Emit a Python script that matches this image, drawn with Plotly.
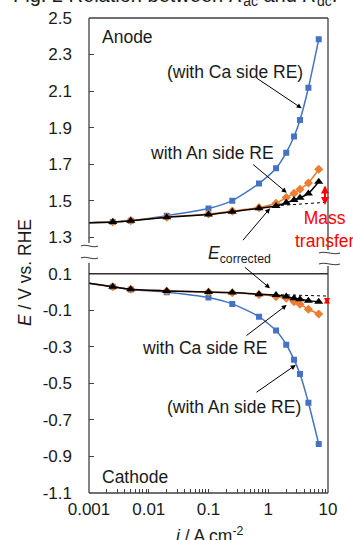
import plotly.graph_objects as go

# ---------------- data ----------------
i_vals = [0.0008, 0.0025, 0.005, 0.02, 0.1, 0.25, 0.7, 1.35, 2.0, 2.7, 3.4, 4.7, 7.0]

# Anode (E / V vs. RHE)
anode_ca_side = [1.378, 1.383, 1.390, 1.418, 1.457, 1.500, 1.594, 1.677, 1.763, 1.851, 1.942, 2.118, 2.383]
anode_an_side = [1.378, 1.383, 1.391, 1.410, 1.427, 1.443, 1.462, 1.486, 1.517, 1.540, 1.563, 1.597, 1.672]
anode_corrected = [1.378, 1.383, 1.390, 1.409, 1.424, 1.440, 1.458, 1.471, 1.489, 1.504, 1.516, 1.540, 1.604]

# Cathode (E / V vs. RHE)
cath_an_side = [0.052, 0.029, 0.014, -0.001, -0.030, -0.065, -0.135, -0.211, -0.288, -0.370, -0.449, -0.606, -0.832]
cath_ca_side = [0.052, 0.029, 0.015, 0.006, 0.000, -0.004, -0.014, -0.025, -0.034, -0.053, -0.067, -0.094, -0.120]
cath_corrected = [0.052, 0.029, 0.015, 0.006, 0.000, -0.003, -0.012, -0.016, -0.025, -0.034, -0.040, -0.047, -0.053]

# Tafel extrapolation (dotted)
tafel_i_anode = [1.3, 10]
tafel_anode = [1.472, 1.492]
tafel_i_cath = [1.3, 10]
tafel_cath = [-0.014, -0.022]

x_tickvals = [0.001, 0.01, 0.1, 1, 10]
x_ticktext = ["0.001", "0.01", "0.1", "1", "10"]
y_top_ticks = [1.3, 1.5, 1.7, 1.9, 2.1, 2.3, 2.5]
y_bot_ticks = [-1.1, -0.9, -0.7, -0.5, -0.3, -0.1, 0.1]

BLUE = "#4472C4"
ORANGE = "#ED7D31"
BLACK = "#000000"
FRAME = "#404040"
TXT = "#1a1a1a"
FONT = "Liberation Sans, Arial, sans-serif"

# plot area in pixels
L, R, T, B = 89, 328, 18, 493
W, H = 353, 540


def px(x):
    return (x - L) / (R - L)


def py(y):
    return (B - y) / (B - T)


fig = go.Figure()


def add(x, y, color, symbol, size, yaxis, dash=None, markers=True, width=1.5):
    fig.add_trace(go.Scatter(
        x=x, y=y, xaxis="x", yaxis=yaxis,
        mode="lines+markers" if markers else "lines",
        line=dict(color=color, width=width, shape="spline" if markers else "linear",
                  smoothing=0.6, dash=dash),
        marker=dict(color=color, symbol=symbol, size=size, line=dict(width=0)),
        showlegend=False, hoverinfo="skip"))


# anode (top panel, y2)
add(i_vals, anode_ca_side, BLUE, "square", 6, "y2")
add(i_vals, anode_an_side, ORANGE, "diamond", 7, "y2")
add(i_vals, anode_corrected, BLACK, "triangle-up", 8, "y2")
add(tafel_i_anode, tafel_anode, BLACK, None, 0, "y2", dash="dot", markers=False, width=1)
# cathode (bottom panel, y)
add(i_vals, cath_an_side, BLUE, "square", 6, "y")
add(i_vals, cath_ca_side, ORANGE, "diamond", 7, "y")
add(i_vals, cath_corrected, BLACK, "triangle-up", 8, "y")
add(tafel_i_cath, tafel_cath, BLACK, None, 0, "y", dash="dot", markers=False, width=1)

minor_vals = [m * 10 ** e for e in range(-3, 1) for m in range(2, 10)]

tickfont = dict(family=FONT, size=17, color=TXT)

fig.update_layout(
    width=W, height=H,
    margin=dict(l=L, r=W - R, t=T, b=H - B, autoexpand=False),
    paper_bgcolor="white", plot_bgcolor="white",
    xaxis=dict(type="log", range=[-3, 1], domain=[0, 1], anchor="y",
               showgrid=False, zeroline=False, showline=False,
               tickmode="array", tickvals=x_tickvals, ticktext=x_ticktext,
               ticks="inside", ticklen=4, tickcolor=FRAME, tickwidth=1,
               tickfont=tickfont, ticklabelstandoff=4, automargin=False,
               minor=dict(tickmode="array", tickvals=minor_vals, ticks="inside",
                          ticklen=4, tickcolor=FRAME, tickwidth=1, showgrid=False)),
    yaxis=dict(domain=[0, 0.5], range=[-1.1, 0.2], anchor="x",
               showgrid=False, zeroline=False, showline=False,
               tickmode="array", tickvals=y_bot_ticks,
               ticktext=[f"{v:.1f}" for v in y_bot_ticks],
               ticks="inside", ticklen=5, tickcolor=FRAME, tickwidth=1,
               tickfont=tickfont, ticklabelstandoff=16, automargin=False),
    yaxis2=dict(domain=[0.5, 1], range=[1.2, 2.5], anchor="x",
                showgrid=False, zeroline=False, showline=False,
                tickmode="array", tickvals=y_top_ticks,
                ticktext=[f"{v:.1f}" for v in y_top_ticks],
                ticks="inside", ticklen=5, tickcolor=FRAME, tickwidth=1,
                tickfont=tickfont, ticklabelstandoff=16, automargin=False),
)

shapes = []


def pline(x0, y0, x1, y1, color=FRAME, width=1.3, dash=None):
    shapes.append(dict(type="line", xref="paper", yref="paper",
                       x0=px(x0), y0=py(y0), x1=px(x1), y1=py(y1),
                       line=dict(color=color, width=width, dash=dash), layer="above"))


# frame with broken axis
pline(L, T, R, T)
pline(L, B, R, B)
pline(L, T, L, 243)
pline(L, 263, L, B)
pline(R, T, R, 250)
pline(R, 266, R, B)
# top border of cathode box (0.1 V)
shapes.append(dict(type="line", xref="paper", yref="y", x0=0, x1=1, y0=0.1, y1=0.1,
                   line=dict(color="#303030", width=1.6), layer="above"))


def squiggle(x0, x1, y, amp=3):
    w = x1 - x0
    pts = [(x0, y), (x0 + 0.35 * w, y - amp), (x0 + 0.65 * w, y + amp), (x1, y)]
    p = [(px(a), py(b)) for a, b in pts]
    path = "M {0},{1} C {2},{3} {4},{5} {6},{7}".format(
        p[0][0], p[0][1], p[1][0], p[1][1], p[2][0], p[2][1], p[3][0], p[3][1])
    shapes.append(dict(type="path", xref="paper", yref="paper", path=path,
                       line=dict(color=FRAME, width=1.2), layer="above"))


squiggle(81, 98, 246)
squiggle(81, 98, 258)
squiggle(319, 340, 253)
squiggle(319, 340, 264)

fig.update_layout(shapes=shapes)

ann = []
AF = dict(family=FONT, size=17.5, color=TXT)


def text(s, x, y, xanchor="left", yanchor="middle", font=AF, angle=0, align="left"):
    ann.append(dict(text=s, xref="paper", yref="paper", x=px(x), y=py(y),
                    xanchor=xanchor, yanchor=yanchor, showarrow=False,
                    font=font, textangle=angle, align=align))


def arrow(tx, ty, hx, hy, color=BLACK, width=1, both=False, size=1):
    d = dict(text="", xref="paper", yref="paper", x=px(hx), y=py(hy),
             ax=tx - hx, ay=ty - hy, axref="pixel", ayref="pixel",
             showarrow=True, arrowhead=2, arrowsize=size, arrowwidth=width,
             arrowcolor=color, standoff=0)
    if both:
        d.update(arrowside="end+start", startarrowhead=2, startarrowsize=size, startstandoff=0)
    ann.append(d)


# title (partially cut at top)
text("Fig. 2 Relation between <i>R</i><sub>ac</sub> and <i>R</i><sub>dc</sub>.", 11, 11,
     yanchor="bottom", font=dict(family=FONT, size=20, color=TXT))

# axis titles
text("<i>E</i> / V vs. RHE", 25, 273, xanchor="center", yanchor="middle", angle=-90)
text("<i>i</i> / A cm<sup>-2</sup>", 210, 522, xanchor="center", yanchor="top")

# panel labels
text("Anode", 100, 37)
text("Cathode", 100, 477)

# curve labels
text("(with Ca side RE)", 165, 72)
arrow(255, 77, 301.7, 108.3)
text("with An side RE", 276, 153, xanchor="right")
arrow(251.7, 163.3, 286.7, 192.7)
text("<i>E</i><sub>corrected</sub>", 206, 255)
arrow(241.7, 241.7, 270, 208.3)
arrow(243.3, 266, 270, 288.3)
text("with Ca side RE", 140, 348)
arrow(245, 336.7, 286.7, 305)
text("(with An side RE)", 165, 407)
arrow(255, 393.3, 295.7, 365)

# mass transfer
text("Mass<br>transfer", 325, 229, xanchor="center",
     font=dict(family=FONT, size=17.5, color="#FF0000"), align="center")
arrow(325, 184, 325, 205, color="#FF0000", width=2, both=True, size=0.8)
arrow(327, 296, 327, 304, color="#FF0000", width=2, both=True, size=0.6)

fig.update_layout(annotations=ann)

fig.write_html("out.html")
